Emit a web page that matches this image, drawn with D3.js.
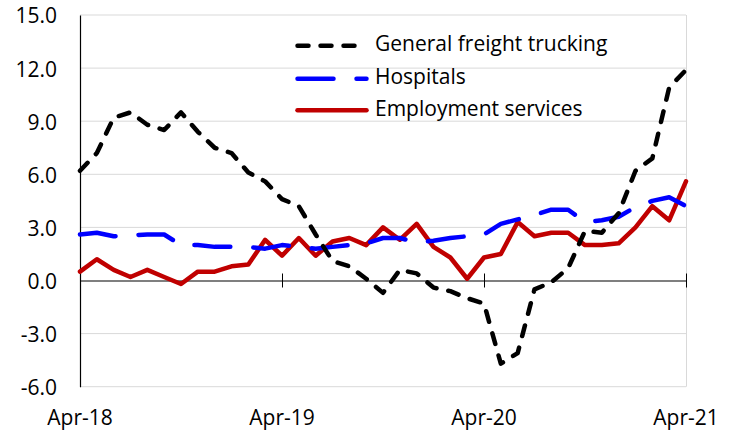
<!DOCTYPE html>
<html>
<head>
<meta charset="utf-8">
<script src="https://cdn.jsdelivr.net/npm/d3@7"></script>
<style>
  body { margin: 0; background: #fff; }
  text { font-family: "Open Sans", sans-serif; fill: #000; }
</style>
</head>
<body>
<div id="chart"></div>
<script>
// monthly, Apr-18 .. Apr-21
var months = ["Apr-18","May-18","Jun-18","Jul-18","Aug-18","Sep-18","Oct-18","Nov-18","Dec-18","Jan-19","Feb-19","Mar-19",
  "Apr-19","May-19","Jun-19","Jul-19","Aug-19","Sep-19","Oct-19","Nov-19","Dec-19","Jan-20","Feb-20","Mar-20",
  "Apr-20","May-20","Jun-20","Jul-20","Aug-20","Sep-20","Oct-20","Nov-20","Dec-20","Jan-21","Feb-21","Mar-21","Apr-21"];

var freight = [6.2,7.2,9.2,9.5,8.8,8.5,9.5,8.4,7.5,7.2,6.1,5.6,
  4.6,4.2,2.6,1.1,0.8,0.1,-0.7,0.6,0.4,-0.4,-0.6,-1.0,
  -1.3,-4.7,-4.1,-0.5,-0.1,0.7,2.8,2.7,3.8,6.2,6.9,10.9,11.9];

var hospitals = [2.6,2.7,2.5,2.55,2.6,2.6,2.0,2.0,1.9,1.9,1.9,1.8,
  2.0,1.9,1.8,1.9,2.0,2.1,2.4,2.4,2.15,2.25,2.4,2.5,
  2.6,3.2,3.45,3.7,4.0,4.0,3.3,3.4,3.6,4.15,4.5,4.7,4.2];

var employment = [0.5,1.2,0.6,0.2,0.6,0.2,-0.2,0.5,0.5,0.8,0.9,2.3,
  1.4,2.4,1.4,2.2,2.4,2.0,3.0,2.3,3.2,1.9,1.3,0.1,
  1.3,1.5,3.3,2.5,2.7,2.7,2.0,2.0,2.1,3.0,4.2,3.4,5.6];

var seriesNames = ["General freight trucking", "Hospitals", "Employment services"];
var xTickLabels = ["Apr-18", "Apr-19", "Apr-20", "Apr-21"];
var yTicks = [-6, -3, 0, 3, 6, 9, 12, 15];

var width = 732, height = 433;
var fontSize = 21;

var svg = d3.select("#chart").append("svg")
  .attr("width", width).attr("height", height);

var x = d3.scalePoint().domain(months).range([80, 686]);
var y = d3.scaleLinear().domain([-6, 15]).range([386.7, 15]);

// gridlines
svg.append("g").selectAll("line")
  .data(yTicks.filter(function(d){ return d !== 0; }))
  .enter().append("line")
  .attr("x1", 80).attr("x2", 686)
  .attr("y1", function(d){ return y(d); })
  .attr("y2", function(d){ return y(d); })
  .attr("stroke", "#d9d9d9").attr("stroke-width", 1);

// right border of plot
svg.append("line")
  .attr("x1", 686.5).attr("x2", 686.5)
  .attr("y1", y(15)).attr("y2", y(-6))
  .attr("stroke", "#d9d9d9").attr("stroke-width", 1);

// y axis
var yAxis = svg.append("g")
  .attr("transform", "translate(80,0)")
  .call(d3.axisLeft(y).tickValues(yTicks).tickSize(0).tickPadding(23)
    .tickFormat(function(d){ return d3.format(".1f")(d).replace("\u2212", "-"); }));
yAxis.select(".domain").attr("stroke", "#000").attr("stroke-width", 1.2);
yAxis.selectAll("text")
  .attr("font-size", fontSize)
  .attr("font-family", "'Open Sans', sans-serif")
  .attr("dy", "0.38em");

// x axis sits on zero
var xAxis = svg.append("g")
  .attr("transform", "translate(0," + y(0) + ")")
  .call(d3.axisBottom(x).tickValues(xTickLabels).tickSize(7).tickSizeOuter(0).tickFormat(""));
xAxis.select(".domain").attr("stroke", "#000").attr("stroke-width", 1.2);
xAxis.selectAll(".tick line").attr("y1", -7).attr("stroke", "#000");

svg.append("g").selectAll("text")
  .data(xTickLabels)
  .enter().append("text")
  .attr("x", function(d){ return x(d); })
  .attr("y", 419)
  .attr("text-anchor", "middle")
  .attr("dominant-baseline", "middle")
  .attr("font-size", fontSize)
  .text(function(d){ return d; });

var styles = [
  { color: "#000000", dash: "11,12" },
  { color: "#0000ff", dash: "36,23" },
  { color: "#c00000", dash: null }
];
var allSeries = [freight, hospitals, employment];

var line = d3.line()
  .x(function(d, i){ return x(months[i]); })
  .y(function(d){ return y(d); });

// draw red first, then blue, then black on top
[2, 1, 0].forEach(function(k){
  svg.append("path")
    .datum(allSeries[k])
    .attr("d", line)
    .attr("fill", "none")
    .attr("stroke", styles[k].color)
    .attr("stroke-width", 4.5)
    .attr("stroke-linecap", "round")
    .attr("stroke-linejoin", "round")
    .attr("stroke-dasharray", styles[k].dash);
});

// legend
var legendY = [45.7, 78.7, 110.3];
var legend = svg.append("g");
seriesNames.forEach(function(name, k){
  legend.append("line")
    .attr("x1", 297.5).attr("x2", 366.5)
    .attr("y1", legendY[k]).attr("y2", legendY[k])
    .attr("stroke", styles[k].color)
    .attr("stroke-width", 4.5)
    .attr("stroke-linecap", "round")
    .attr("stroke-dasharray", styles[k].dash);
  legend.append("text")
    .attr("x", 375)
    .attr("y", legendY[k])
    .attr("dominant-baseline", "middle")
    .attr("font-size", fontSize)
    .text(name);
});
</script>
</body>
</html>
